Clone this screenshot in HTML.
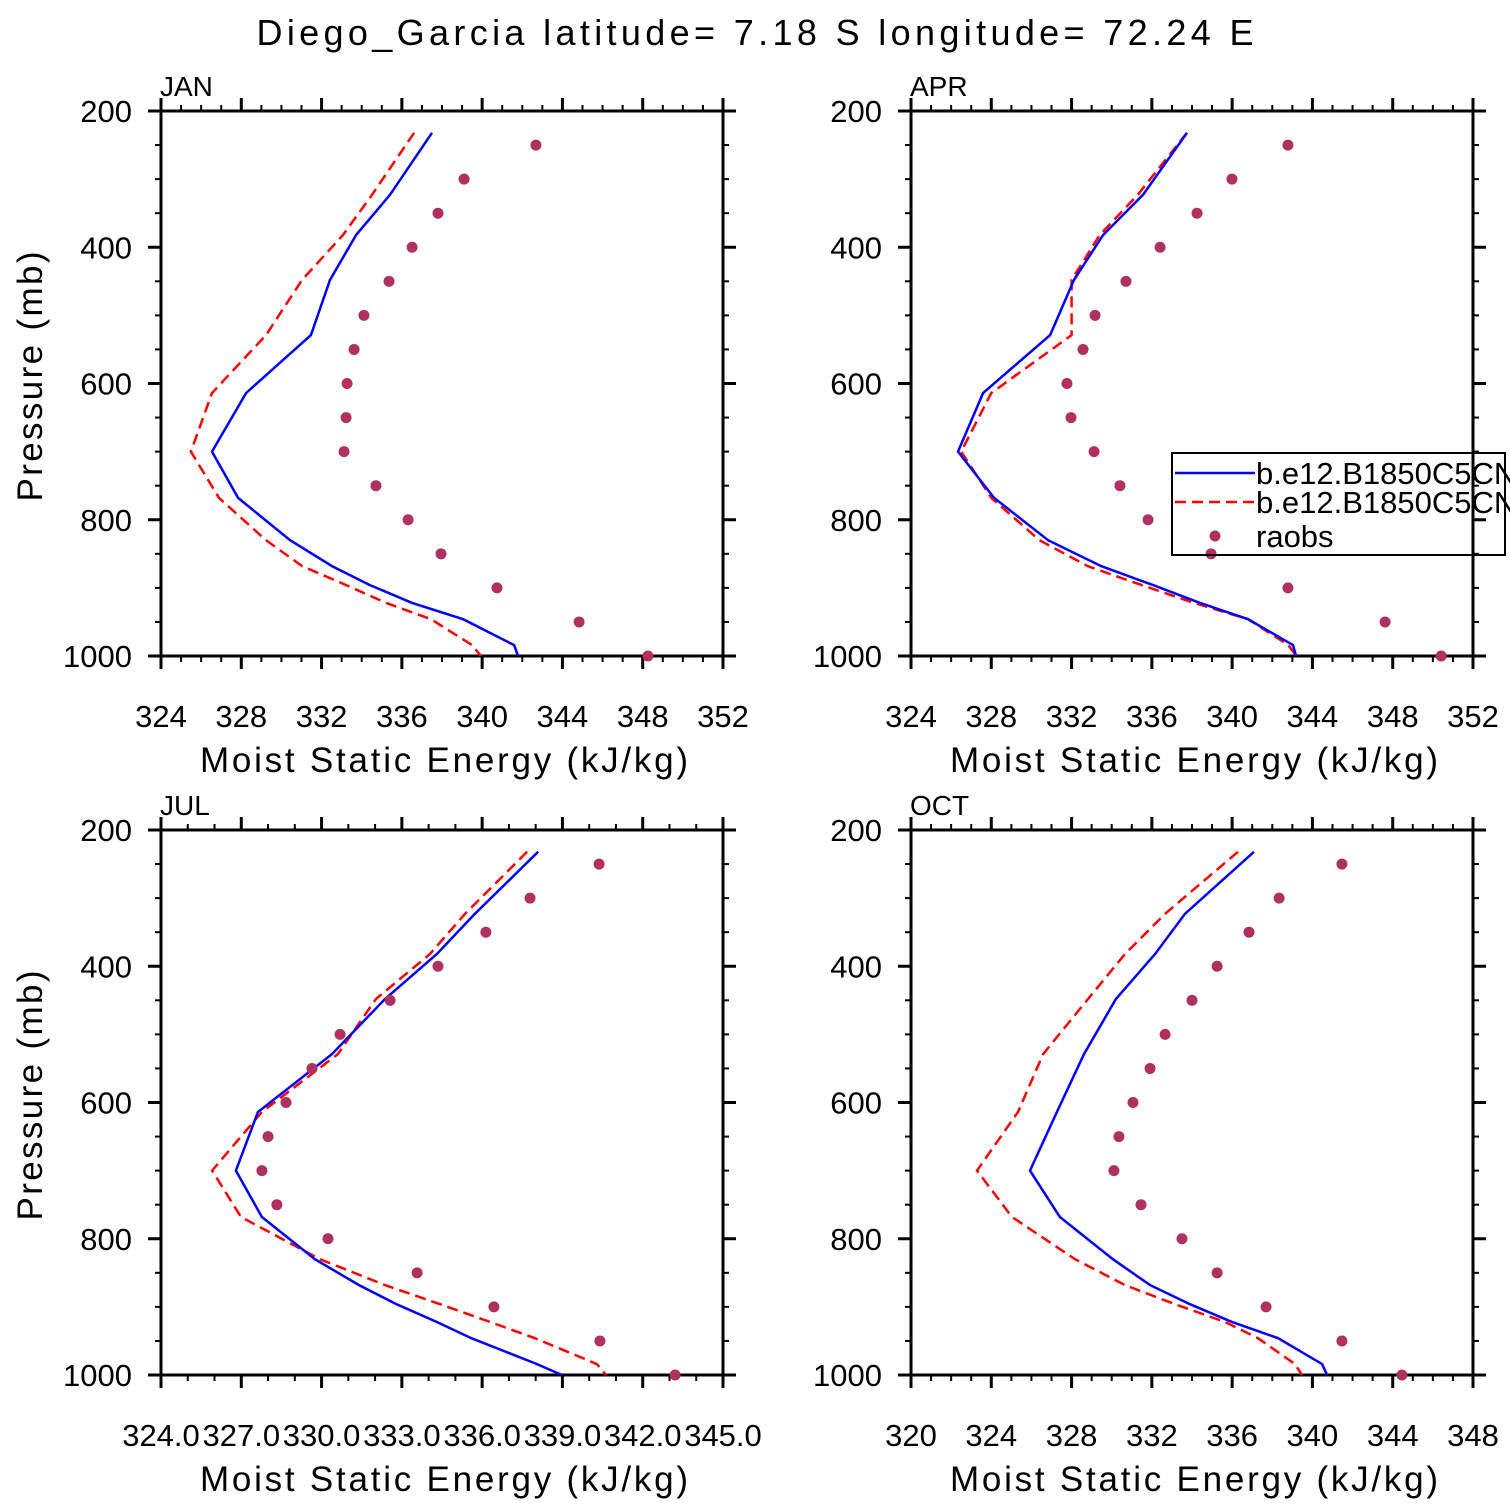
<!DOCTYPE html>
<html><head><meta charset="utf-8"><style>html,body{margin:0;padding:0;background:#fff}svg{display:block}</style></head>
<body>
<svg id="c" width="1510" height="1510" viewBox="0 0 1510 1510" xmlns="http://www.w3.org/2000/svg" font-family="'Liberation Sans', sans-serif">
<rect width="1510" height="1510" fill="#fff"/>
<text x="755" y="45" font-size="36" text-anchor="middle" textLength="997" lengthAdjust="spacing">Diego_Garcia  latitude= 7.18 S longitude= 72.24 E</text>
</svg>
<script>
const levels = [232,323,382,448,529,614,700,768,830,868,896,922,946,984,1000];
const obsLevels = [250,300,350,400,450,500,550,600,650,700,750,800,850,900,950,1000];
const months = ["JAN","APR","JUL","OCT"];
const xMin = [324,324,324,320];
const xMax = [352,352,345,348];
const xStep = [4,4,3,4];
const blueJAN = [337.50,335.41,333.72,332.42,331.47,328.24,326.54,327.84,330.43,332.52,334.41,336.51,339.05,341.59,341.79];
const redJAN = [336.61,334.51,333.07,331.03,329.23,326.54,325.49,326.89,329.23,331.03,333.22,335.21,337.45,339.50,339.94];
const obsJAN = [342.68,339.10,337.80,336.51,335.36,334.11,333.62,333.27,333.22,333.12,334.71,336.31,337.95,340.74,344.83,348.26];
const blueAPR = [337.75,335.56,333.57,332.12,330.93,327.59,326.34,328.14,330.83,333.47,336.06,338.40,340.79,343.03,343.18];
const redAPR = [337.75,335.30,333.40,332.00,332.00,328.00,326.50,328.00,330.40,332.80,335.50,338.10,340.80,342.80,343.20];
const obsAPR = [342.78,339.99,338.25,336.41,334.71,333.17,332.57,331.77,331.97,333.12,334.41,335.81,338.95,342.78,347.62,350.41];
const blueJUL = [338.09,335.73,334.31,332.37,330.39,327.62,326.80,327.77,329.75,331.40,332.80,334.30,335.60,338.05,338.98];
const redJUL = [337.68,335.36,334.05,332.03,330.61,327.77,325.91,326.99,329.94,332.37,334.43,336.29,337.97,340.29,340.63];
const obsJUL = [340.37,337.79,336.14,334.35,332.56,330.69,329.64,328.67,328.00,327.77,328.33,330.24,333.57,336.44,340.40,343.21];
const blueOCT = [337.09,333.65,332.16,330.21,328.62,327.27,325.93,327.42,330.06,331.91,333.90,335.99,338.29,340.48,340.73];
const redOCT = [336.29,332.66,330.66,328.82,326.58,325.33,323.29,325.03,328.17,330.66,333.15,335.64,337.29,339.13,339.48];
const obsOCT = [341.47,338.34,336.84,335.25,334.00,332.66,331.91,331.06,330.36,330.11,331.46,333.50,335.25,337.69,341.47,344.46];
const blues=[blueJAN,blueAPR,blueJUL,blueOCT], reds=[redJAN,redAPR,redJUL,redOCT], obss=[obsJAN,obsAPR,obsJUL,obsOCT];
const NS="http://www.w3.org/2000/svg";
const svg=document.getElementById('c');
function mk(tag,attrs,parent,txt){const e=document.createElementNS(NS,tag);for(const k in attrs)e.setAttribute(k,attrs[k]);if(txt!==undefined)e.textContent=txt;(parent||svg).appendChild(e);return e;}
const W=562,H=545;
const origins=[[161,111],[911,111],[161,830],[911,830]];
months.forEach((m,i)=>{
  const [x0,y0]=origins[i];
  const g=mk('g',{});
  
  
  const sx=v=>x0+(v-xMin[i])/(xMax[i]-xMin[i])*W;
  const sy=p=>y0+(p-200)/800*H;
  const t=mk('text',{x:x0-1,y:y0-15,'font-size':28},g,m);
  
  
  for(let p=200;p<=1000;p+=50){
    const maj=p%200===0, y=sy(p), L=maj?13:6;
    mk('line',{x1:x0-L,y1:y,x2:x0,y2:y,stroke:'#000','stroke-width':maj?3:2},g);
    mk('line',{x1:x0+W,y1:y,x2:x0+W+L,y2:y,stroke:'#000','stroke-width':maj?3:2},g);
    if(maj){const tl=mk('text',{x:x0-29,y:y+11,'font-size':31,'text-anchor':'end'},g,String(p));
      
      }
  }
  const minorStep=1;
  for(let v=xMin[i];v<=xMax[i]+1e-6;v+=minorStep){
    const maj=Math.abs((v-xMin[i])/xStep[i]-Math.round((v-xMin[i])/xStep[i]))<1e-6;
    const x=sx(v), L=maj?13:6;
    mk('line',{x1:x,y1:y0+H,x2:x,y2:y0+H+L,stroke:'#000','stroke-width':maj?3:2},g);
    mk('line',{x1:x,y1:y0-L,x2:x,y2:y0,stroke:'#000','stroke-width':maj?3:2},g);
    if(maj){const lab=(i===2)?v.toFixed(1):String(v);
      const tl=mk('text',{x:x,y:y0+H+71,'font-size':31,'text-anchor':'middle'},g,lab);
      
      }
  }
  const fr=mk('rect',{x:x0,y:y0,width:W,height:H,fill:'none',stroke:'#000','stroke-width':3},g);
  
  
  const xt=mk('text',{x:x0+W/2+2,y:y0+H+116,'font-size':35,'text-anchor':'middle',textLength:488,lengthAdjust:'spacing'},g,'Moist Static Energy (kJ/kg)');
  
  
  if(i%2===0){const yt=mk('text',{x:0,y:0,'font-size':35,'text-anchor':'middle',textLength:250,lengthAdjust:'spacing',transform:`translate(42,${y0+H/2+121-128}) rotate(-90)`},g,'Pressure (mb)');
    
    }
  const ptsB=levels.map((p,k)=>sx(blues[i][k]).toFixed(1)+','+sy(p).toFixed(1)).join(' ');
  const ptsR=levels.map((p,k)=>sx(reds[i][k]).toFixed(1)+','+sy(p).toFixed(1)).join(' ');
  const lr=mk('polyline',{points:ptsR,fill:'none',stroke:'#ff0000','stroke-width':2.5,'stroke-dasharray':'11,6'},g);
  
  
  const lb=mk('polyline',{points:ptsB,fill:'none',stroke:'#0000ff','stroke-width':2.5},g);
  
  
  obsLevels.forEach((p,k)=>{
    const c=mk('circle',{cx:sx(obss[i][k]),cy:sy(p),r:5.5,fill:'#b03060'},g);
    
    
  });
});
const lg=mk('g',{});


mk('rect',{x:1172,y:453,width:333,height:102,fill:'none',stroke:'#000','stroke-width':2},lg);
mk('line',{x1:1175,y1:473,x2:1255,y2:473,stroke:'#0000ff','stroke-width':2.5},lg);
mk('line',{x1:1175,y1:502,x2:1255,y2:502,stroke:'#ff0000','stroke-width':2.5,'stroke-dasharray':'11,6'},lg);
mk('circle',{cx:1215,cy:536,r:5.5,fill:'#b03060'},lg);
const e1=mk('text',{x:1256,y:484,'font-size':31},lg,'b.e12.B1850C5CN');


const e2=mk('text',{x:1256,y:513,'font-size':31},lg,'b.e12.B1850C5CN');


const e3=mk('text',{x:1256,y:547,'font-size':31},lg,'raobs');


mk('line',{x1:1473,y1:440,x2:1473,y2:570,stroke:'#000','stroke-width':3},lg);
</script>
</body></html>
